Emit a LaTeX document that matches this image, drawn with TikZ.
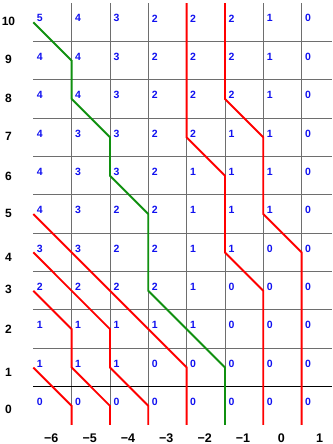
\documentclass[tikz,border=0pt]{standalone}
\usepackage{fontspec}
\setmainfont{Liberation Sans}
\definecolor{gridgray}{HTML}{6E6E6E}
\definecolor{pathgreen}{HTML}{109010}
\definecolor{pathred}{HTML}{FF0000}
\definecolor{numblue}{HTML}{1010F0}
\tikzset{
  gridline/.style={draw=gridgray, line width=0.9pt},
  baseline0/.style={draw=black, line width=1.1pt},
  redpath/.style={draw=pathred, line width=1.9pt},
  greenpath/.style={draw=pathgreen, line width=1.9pt},
  num/.style={text=numblue, font=\fontsize{10.5}{12}\selectfont\bfseries, inner sep=0pt},
  rowlab/.style={text=black, font=\fontsize{12}{14}\selectfont\bfseries, inner sep=0pt},
  collab/.style={text=black, font=\fontsize{12.5}{14}\selectfont\bfseries, inner sep=0pt}
}
\begin{document}
\begin{tikzpicture}[x=1pt,y=1pt]
\useasboundingbox (0,0) rectangle (332,444);
\begin{scope}[shift={(33.3pt,19pt)}, x=38.33pt, y=38.36pt]
  % grid
  \foreach \v in {2,...,10} \draw[gridline] (0,\v) -- (7.793,\v);
  \foreach \u in {1,...,7} \draw[gridline] (\u,0) -- (\u,11);
  \draw[baseline0] (0,1) -- (7.793,1);
  % red paths
  \draw[redpath] (4,11) -- (4,7.5) -- (5,6.5) -- (5,4.5) -- (6,3.5) -- (6,0);
  \draw[redpath] (5,11) -- (5,8.5) -- (6,7.5) -- (6,5.5) -- (7,4.5) -- (7,0);
  \draw[redpath] (0,5.5) -- (4,1.5) -- (4,0);
  \draw[redpath] (0,4.5) -- (2,2.5) -- (2,1.5) -- (3,0.5) -- (3,0);
  \draw[redpath] (0,3.5) -- (1,2.5) -- (1,1.5) -- (2,0.5) -- (2,0);
  \draw[redpath] (0,1.5) -- (1,0.5) -- (1,0);
  % green path
  \draw[greenpath] (0,10.5) -- (1,9.5) -- (1,8.5) -- (2,7.5) -- (2,6.5) -- (3,5.5) -- (3,3.5) -- (5,1.5) -- (5,0);
  % numbers
  \foreach \r/\vals in {10/{5,4,3,2,2,2,1,0},9/{4,4,3,2,2,2,1,0},8/{4,4,3,2,2,2,1,0},
      7/{4,3,3,2,2,1,1,0},6/{4,3,3,2,1,1,1,0},5/{4,3,2,2,1,1,1,0},4/{3,3,2,2,1,1,0,0},
      3/{2,2,2,2,1,0,0,0},2/{1,1,1,1,1,0,0,0},1/{1,1,1,0,0,0,0,0},0/{0,0,0,0,0,0,0,0}}{
    \foreach \n [count=\c from 0] in \vals {
      \node[num] (n\r-\c) at (\c+0.17,\r+0.6) {\n};
    }
  }
  % row labels
  \foreach \r/\dy in {10/0.03,9/0.02,8/0.02,7/0.03,6/-0.01,5/0.01,4/-0.13,3/0.03,2/0,1/-0.13,0/-0.1}{
    \node[rowlab] (row\r) at (-0.647,\r+0.5+\dy) {\r};
  }
  % column labels
  \foreach \t [count=\c from 0] in {−6,−5,−4,−3,−2,−1,0,1}{
    \node[collab] (col\c) at (\c+0.47,-0.34) {\t};
  }
\end{scope}
\end{tikzpicture}
\end{document}
